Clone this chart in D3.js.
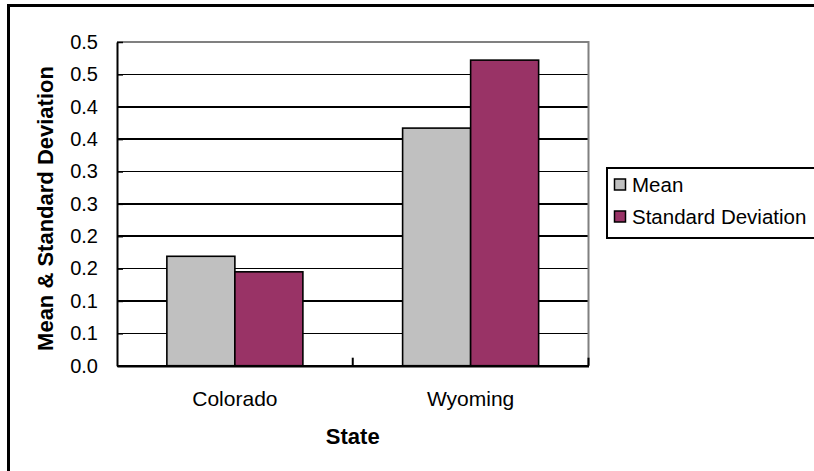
<!DOCTYPE html>
<html>
<head>
<meta charset="utf-8">
<script src="https://cdn.jsdelivr.net/npm/d3@7"></script>
<style>
  body { margin: 0; background: #fff; }
  svg { display: block; font-family: "Liberation Sans", Arial, sans-serif; }
</style>
</head>
<body>
<div id="chart"></div>
<script>
// data
var states = ['Colorado', 'Wyoming']
var seriesNames = ['Mean', 'Standard Deviation']
var meanValues = [0.169, 0.367]
var sdValues = [0.145, 0.472]
var yTickValues = [0, 0.05, 0.1, 0.15, 0.2, 0.25, 0.3, 0.35, 0.4, 0.45, 0.5]
var yTickLabels = ['0.0', '0.1', '0.1', '0.2', '0.2', '0.3', '0.3', '0.4', '0.4', '0.5', '0.5']
var colors = ['#C0C0C0', '#993366']

var rows = states.map((s, i) => ({state: s, values: [meanValues[i], sdValues[i]]}))

var W = 814, H = 471
// plot area edges (note: "top" is taken by window.top)
var pL = 117, pR = 588.5, pT = 42, pB = 365.7

var svg = d3.select('#chart')
  .append('svg')
  .attr('width', W)
  .attr('height', H)

// outer chart frame (runs off the right and bottom edges)
svg.append('rect')
  .attr('x', 8.5).attr('y', 5.5)
  .attr('width', 900).attr('height', 600)
  .attr('fill', 'none')
  .attr('stroke', '#000')
  .attr('stroke-width', 3)

var x = d3.scaleBand().domain(states).range([pL, pR])
var bw = x.bandwidth()
var x1 = d3.scaleBand().domain(seriesNames).range([bw * 0.2115, bw * 0.7885])
var y = d3.scaleLinear().domain([0, 0.5]).range([pB, pT])

// gridlines
svg.append('g')
  .selectAll('line')
  .data(yTickValues.slice(1, -1))
  .enter()
  .append('line')
  .attr('x1', pL).attr('x2', pR)
  .attr('y1', d => y(d)).attr('y2', d => y(d))
  .attr('stroke', '#000')
  .attr('stroke-width', 1.6)
  .attr('shape-rendering', 'crispEdges')

// plot area border (top / right grey)
svg.append('path')
  .attr('d', `M${pL},${pT}H${pR}V${pB}`)
  .attr('fill', 'none')
  .attr('stroke', '#808080')
  .attr('stroke-width', 2)

// bars
var g = svg.selectAll('g.state')
  .data(rows)
  .enter()
  .append('g')
  .attr('class', 'state')
  .attr('transform', d => `translate(${x(d.state)},0)`)

g.selectAll('rect')
  .data(d => d.values.map((v, i) => ({name: seriesNames[i], v: v, i: i})))
  .enter()
  .append('rect')
  .attr('x', d => x1(d.name))
  .attr('width', x1.bandwidth())
  .attr('y', d => y(d.v))
  .attr('height', d => pB - y(d.v))
  .attr('fill', d => colors[d.i])
  .attr('stroke', '#000')
  .attr('stroke-width', 1.6)

// y axis
var yAxis = d3.axisLeft(y)
  .tickValues(yTickValues)
  .tickFormat((d, i) => yTickLabels[i])
  .tickSizeInner(-6)
  .tickSizeOuter(0)
  .tickPadding(19)

var ya = svg.append('g')
  .attr('transform', `translate(${pL},0)`)
  .call(yAxis)
ya.select('.domain').attr('stroke', '#000').attr('stroke-width', 2)
ya.selectAll('.tick line').attr('stroke', '#000').attr('stroke-width', 1.5)
ya.selectAll('.tick text')
  .attr('font-size', 20)
  .attr('fill', '#000')
  .attr('font-family', '"Liberation Sans", Arial, sans-serif')

// x axis
var xAxis = d3.axisBottom(x).tickSize(0).tickPadding(25)
var xa = svg.append('g')
  .attr('transform', `translate(0,${pB})`)
  .call(xAxis)
xa.select('.domain').attr('stroke', '#000').attr('stroke-width', 2.5)
xa.selectAll('.tick text')
  .attr('font-size', 21)
  .attr('fill', '#000')
  .attr('font-family', '"Liberation Sans", Arial, sans-serif')

// category separator ticks, pointing up
svg.append('g')
  .selectAll('line')
  .data(states)
  .enter()
  .append('line')
  .attr('x1', d => x(d) + bw).attr('x2', d => x(d) + bw)
  .attr('y1', pB).attr('y2', pB - 8)
  .attr('stroke', '#000')
  .attr('stroke-width', 2)

// axis titles
svg.append('text')
  .attr('x', (pL + pR) / 2)
  .attr('y', 444)
  .attr('text-anchor', 'middle')
  .attr('font-size', 22)
  .attr('font-weight', 'bold')
  .text('State')

svg.append('text')
  .attr('transform', 'translate(53,208.5) rotate(-90)')
  .attr('text-anchor', 'middle')
  .attr('font-size', 22)
  .attr('font-weight', 'bold')
  .text('Mean & Standard Deviation')

// legend
var legend = svg.append('g')
legend.append('rect')
  .attr('x', 607).attr('y', 168)
  .attr('width', 300).attr('height', 70)
  .attr('fill', '#fff')
  .attr('stroke', '#000')
  .attr('stroke-width', 2)

var li = legend.selectAll('g.item')
  .data(seriesNames)
  .enter()
  .append('g')
  .attr('class', 'item')
  .attr('transform', (d, i) => `translate(0,${185 + i * 32})`)

li.append('rect')
  .attr('x', 614.5).attr('y', -6)
  .attr('width', 11).attr('height', 11)
  .attr('fill', (d, i) => colors[i])
  .attr('stroke', '#000')
  .attr('stroke-width', 1.5)

li.append('text')
  .attr('x', 632)
  .attr('y', 7)
  .attr('font-size', 20.5)
  .text(d => d)
</script>
</body>
</html>
